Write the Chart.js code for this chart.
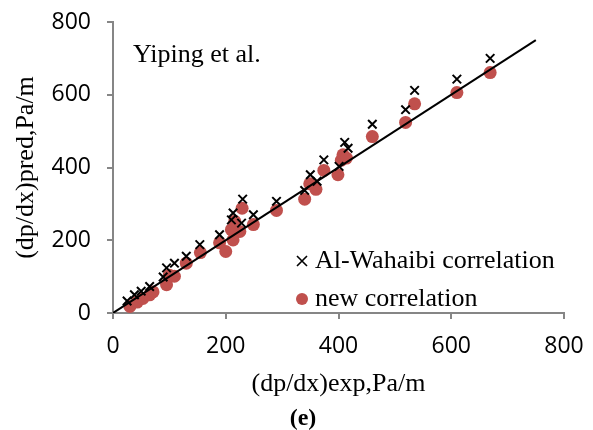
<!DOCTYPE html>
<html>
<head>
<meta charset="utf-8">
<script src="https://cdn.jsdelivr.net/npm/chart.js@4.4.1/dist/chart.umd.min.js"></script>
<style>
html,body{margin:0;padding:0;background:#fff;}
#wrap{width:593px;height:430px;position:relative;}
</style>
</head>
<body>
<div id="wrap"><canvas id="c" width="593" height="430"></canvas></div>
<script>
// Data
const alWahaibiX = [25,38,50,65,89,95,109,130,154,189,210,213,228,230,249,290,340,350,362,374,401,411,417,460,519,535,610,669];
const alWahaibiY = [33,50,60,73,99,124,137,156,188,215,256,275,247,313,270,307,337,380,362,421,403,469,453,519,559,612,643,700];
const newCorrX = [30,43,53,65,71,95,100,109,130,155,189,200,210,213,216,225,229,249,290,340,349,360,374,399,405,408,414,460,519,535,610,669];
const newCorrY = [18,30,40,50,58,78,104,101,137,166,193,169,229,201,252,224,288,243,282,313,355,340,392,380,420,435,426,485,524,575,606,661];
const refLineX = [0,750];
const refLineY = [0,750];
const xTicks = [0,200,400,600,800];
const yTicks = [0,200,400,600,800];
const seriesNames = ["Al-Wahaibi correlation","new correlation"];
const annotationText = "Yiping et al.";
const xTitle = "(dp/dx)exp,Pa/m";
const yTitle = "(dp/dx)pred,Pa/m";
const panelLabel = "(e)";

const toPts = (xs, ys) => xs.map((x, i) => ({x: x, y: ys[i]}));

const RED = '#C0504D';
const AXIS = '#868686';
const SERIF = '"Liberation Serif", "Times New Roman", serif';
const SANS = '"Open Sans", "Liberation Sans", sans-serif';

const extras = {
  id: 'extras',
  afterDraw(chart) {
    const ctx = chart.ctx;
    const ca = chart.chartArea;
    ctx.save();
    ctx.fillStyle = '#000';
    ctx.textBaseline = 'alphabetic';
    // annotation
    ctx.font = '26px ' + SERIF;
    ctx.textAlign = 'left';
    ctx.fillText(annotationText, 133, 62);
    // legend inside plot
    const lx = 302;
    const items = [
      {y: 261, base: 268, draw: (x, y) => { ctx.strokeStyle = '#000'; ctx.lineWidth = 1.6; ctx.beginPath(); ctx.moveTo(x-5,y-5); ctx.lineTo(x+5,y+5); ctx.moveTo(x+5,y-5); ctx.lineTo(x-5,y+5); ctx.stroke(); }},
      {y: 299, base: 306, draw: (x, y) => { ctx.fillStyle = RED; ctx.beginPath(); ctx.arc(x, y, 6, 0, Math.PI*2); ctx.fill(); ctx.fillStyle = '#000'; }}
    ];
    items.forEach((it, i) => {
      it.draw(lx, it.y);
      ctx.fillStyle = '#000';
      ctx.font = '26px ' + SERIF;
      ctx.textAlign = 'left';
      ctx.fillText(seriesNames[i], 315, it.base);
    });
    // axis titles
    ctx.textBaseline = 'middle';
    ctx.font = '26px ' + SERIF;
    ctx.textAlign = 'center';
    ctx.fillText(xTitle, (ca.left + ca.right) / 2, 384);
    ctx.save();
    ctx.translate(26, (ca.top + ca.bottom) / 2);
    ctx.rotate(-Math.PI / 2);
    ctx.fillText(yTitle, 0, 0);
    ctx.restore();
    // panel label
    ctx.font = 'bold 24px ' + SERIF;
    ctx.fillText(panelLabel, 303, 419);
    ctx.restore();
  }
};

new Chart(document.getElementById('c'), {
  type: 'scatter',
  data: {
    datasets: [
      {
        label: seriesNames[0],
        data: toPts(alWahaibiX, alWahaibiY),
        pointStyle: 'crossRot',
        pointRadius: 6,
        pointBorderWidth: 2,
        borderColor: '#000',
        backgroundColor: '#000',
        order: 1
      },
      {
        label: seriesNames[1],
        data: toPts(newCorrX, newCorrY),
        pointStyle: 'circle',
        pointRadius: 6.5,
        pointBorderWidth: 0,
        backgroundColor: RED,
        borderColor: RED,
        order: 2
      },
      {
        type: 'line',
        label: 'y=x',
        data: toPts(refLineX, refLineY),
        borderColor: '#000',
        borderWidth: 2,
        pointRadius: 0,
        fill: false,
        order: 0
      }
    ]
  },
  options: {
    responsive: false,
    animation: false,
    events: [],
    layout: { padding: { top: 22, right: 29, left: 0, bottom: 0 } },
    plugins: { legend: { display: false }, tooltip: { enabled: false } },
    scales: {
      x: {
        type: 'linear', min: 0, max: 800,
        afterBuildTicks: s => { s.ticks = xTicks.map(v => ({value: v})); },
        afterFit: s => { s.height = 117; s.paddingLeft = 0; s.paddingRight = 0; },
        border: { color: AXIS, width: 2 },
        grid: { drawOnChartArea: false, drawTicks: true, tickLength: 6, color: AXIS, lineWidth: 2 },
        ticks: { color: '#000', font: { family: SANS, size: 23 }, padding: 14, maxRotation: 0 }
      },
      y: {
        type: 'linear', min: 0, max: 800,
        afterBuildTicks: s => { s.ticks = yTicks.map(v => ({value: v})); },
        afterFit: s => { s.width = 113; s.paddingTop = 0; s.paddingBottom = 0; },
        border: { color: AXIS, width: 2 },
        grid: { drawOnChartArea: false, drawTicks: true, tickLength: 6, color: AXIS, lineWidth: 2 },
        ticks: { color: '#000', font: { family: SANS, size: 23 }, padding: 16 }
      }
    }
  },
  plugins: [extras]
});
</script>
</body>
</html>
